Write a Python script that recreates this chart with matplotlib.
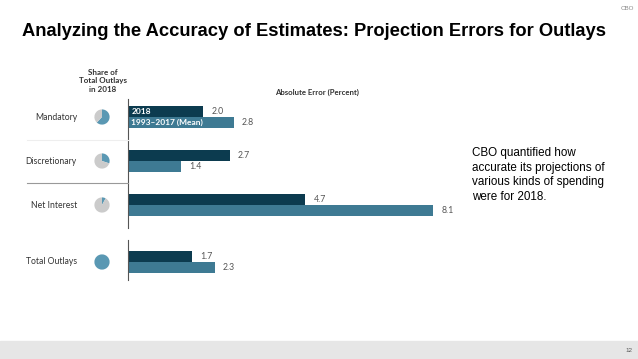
import matplotlib.pyplot as plt
import numpy as np

W, H = 638, 359

# data
categories = ["Mandatory", "Discretionary", "Net Interest", "Total Outlays"]
err_2018 = [2.0, 2.7, 4.7, 1.7]
err_mean = [2.8, 1.4, 8.1, 2.3]
share_2018 = [62, 30, 8, 100]  # percent of total outlays

dark = "#0c3b4f"
light = "#3e7a93"
pie_teal = "#5a98b3"
pie_grey = "#cbcbcb"


def fx(x):
    return x / W


def fy(y):
    return 1 - y / H


fig = plt.figure(figsize=(W / 100, H / 100), dpi=100)
plt.rcParams['font.family'] = ['Lato', 'DejaVu Sans']

# title and page furniture
fig.text(fx(22), fy(32), "Analyzing the Accuracy of Estimates: Projection Errors for Outlays",
         fontsize=13.2, fontweight='bold', family='Liberation Sans', va='center', ha='left')
fig.text(fx(627), fy(8), "CBO", fontsize=4.5, color='#888888', ha='center', va='center',
         family='Liberation Sans')
fig.patches.append(plt.Rectangle((0, 0), 1, fy(341), transform=fig.transFigure,
                                 color='#e6e6e6', zorder=0))
fig.text(fx(629), fy(350), "12", fontsize=4.5, color='#555555', ha='center', va='center',
         family='Liberation Sans')

fig.text(fx(472), fy(147), "CBO quantified how\naccurate its projections of\nvarious kinds of spending\nwere for 2018.",
         fontsize=8.4, family='Liberation Sans', va='top', ha='left', linespacing=1.3)

# bar axes
rows = np.array([0, 1, 2, 3.3])
top_px, bot_px = 99, 280
row_px = 44
ax = fig.add_axes([fx(128), fy(bot_px), fx(128 + 37.7 * 9) - fx(128), (bot_px - top_px) / H])
ax.set_xlim(0, 9)
ax.set_ylim((bot_px - 117) / row_px, -(117 - top_px) / row_px)
ax.axis('off')

bh = 0.245
ax.barh(rows - bh / 2, err_2018, height=bh, color=dark)
ax.barh(rows + bh / 2, err_mean, height=bh, color=light)
for r, v in zip(rows, err_2018):
    ax.annotate(f"{v:.1f}", (v, r - bh / 2), xytext=(6, 0), textcoords='offset points',
                va='center', ha='left', fontsize=6.3, color='#555555')
for r, v in zip(rows, err_mean):
    ax.annotate(f"{v:.1f}", (v, r + bh / 2), xytext=(6, 0), textcoords='offset points',
                va='center', ha='left', fontsize=6.3, color='#555555')
ax.annotate("2018", (0, rows[0] - bh / 2), xytext=(2.5, 0), textcoords='offset points',
            va='center', ha='left', fontsize=6, color='white', fontweight='bold')
ax.annotate("1993\u20132017 (Mean)", (0, rows[0] + bh / 2), xytext=(2.5, 0), textcoords='offset points',
            va='center', ha='left', fontsize=6, color='white', fontweight='bold')

# axis line in two pieces
ax.plot([0, 0], [ax.get_ylim()[1], (228 - 117) / row_px], color='#555555', lw=0.8, clip_on=False)
ax.plot([0, 0], [(240 - 117) / row_px, ax.get_ylim()[0]], color='#555555', lw=0.8, clip_on=False)

# headers
fig.text(fx(103), fy(81), "Share of\nTotal Outlays\nin 2018", fontsize=5.8, fontweight='bold',
         color='#333333', ha='center', va='center', linespacing=1.3)
fig.text(fx(317), fy(92), "Absolute Error (Percent)", fontsize=5.6, fontweight='bold',
         color='#333333', ha='center', va='center')

# row labels, pies, separators
row_y = [117, 161, 205, 262]
for name, s, y in zip(categories, share_2018, row_y):
    fig.text(fx(77), fy(y), name, fontsize=6.2, color='#333333', ha='right', va='center')
    r = 9.5
    pax = fig.add_axes([fx(102 - r), fy(y + r), 2 * r / W, 2 * r / H])
    if s >= 100:
        pax.pie([s], colors=[pie_teal], startangle=90, counterclock=False)
    else:
        pax.pie([s, 100 - s], colors=[pie_teal, pie_grey], startangle=90, counterclock=False)
    pax.set_aspect('equal')

fig.add_artist(plt.Line2D([fx(27), fx(128)], [fy(140), fy(140)], color='#eeeeee', lw=0.8))
fig.add_artist(plt.Line2D([fx(27), fx(128)], [fy(183), fy(183)], color='#999999', lw=0.8))

fig.savefig("out.png", dpi=100)
